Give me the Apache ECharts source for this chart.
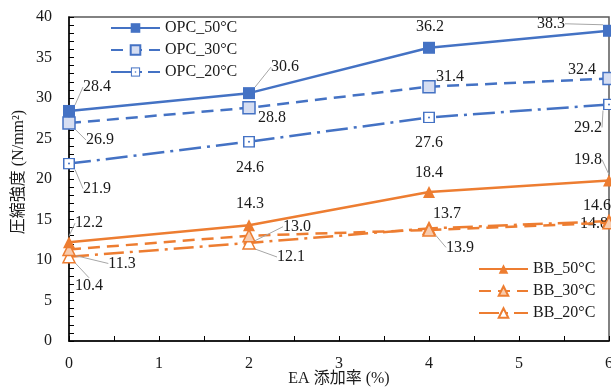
<!DOCTYPE html>
<html>
<head>
<meta charset="utf-8">
<script src="https://cdn.jsdelivr.net/npm/echarts@6/dist/echarts.min.js"></script>
<style>html,body{margin:0;padding:0;background:#fff}#c{width:611px;height:387px}</style>
</head>
<body>
<div id="c"></div>
<script>
// ---- data ----
var xValues = [0, 2, 4, 6];
var seriesNames = ['OPC_50°C', 'OPC_30°C', 'OPC_20°C', 'BB_50°C', 'BB_30°C', 'BB_20°C'];
var opc50 = [28.4, 30.6, 36.2, 38.3];
var opc30 = [26.9, 28.8, 31.4, 32.4];
var opc20 = [21.9, 24.6, 27.6, 29.2];
var bb50 = [12.2, 14.3, 18.4, 19.8];
var bb30 = [11.3, 13.0, 13.7, 14.6];
var bb20 = [10.4, 12.1, 13.9, 14.8];
var xTicks = [0, 1, 2, 3, 4, 5, 6];
var yTicks = [0, 5, 10, 15, 20, 25, 30, 35, 40];

// ---- label placement (layout only) ----
var labelOffsets = [
  [[28,-24],[36,-26],[1,-21],[-58,-7]],
  [[31,17],[23,10],[21,-10],[-27,-9]],
  [[28,25],[1,26],[0,25],[-21,23]],
  [[20,-19],[1,-21],[0,-19],[-21,-21]],
  [[53,14],[48,-9],[18,-16],[-12,-17]],
  [[20,29],[42,14],[31,19],[-15,3]]
];
var leaders = [
  [1,1,0,1],[1,0,0,0],[1,0,0,1],[1,0,0,1],[1,1,0,0],[1,1,1,0]
];

var BLUE = '#4472C4', ORANGE = '#ED7D31';
var serif = "'Liberation Serif', 'Times New Roman', serif";
var cjk = "'Liberation Serif', 'Noto Sans CJK JP', serif";

var opc20Svg = '<svg xmlns="http://www.w3.org/2000/svg" width="12" height="12" viewBox="0 0 12 12">' +
  '<rect x="0.75" y="0.75" width="10.5" height="10.5" fill="#ffffff" stroke="' + BLUE + '" stroke-width="1.5"/>' +
  '<circle cx="6" cy="6" r="1" fill="' + BLUE + '"/></svg>';
var opc20Symbol = 'image://data:image/svg+xml;charset=utf-8,' + encodeURIComponent(opc20Svg);

var styles = [
  {color: BLUE, dash: 'solid', symbol: 'rect', fill: BLUE, size: 12},
  {color: BLUE, dash: [12, 7], symbol: 'rect', fill: '#D6DEF2', size: 12},
  {color: BLUE, dash: [22, 6, 3, 6], symbol: opc20Symbol, fill: '#ffffff', size: 12},
  {color: ORANGE, dash: 'solid', symbol: 'triangle', fill: ORANGE, size: 12},
  {color: ORANGE, dash: [12, 7], symbol: 'triangle', fill: '#F8CBAD', size: 12},
  {color: ORANGE, dash: [20, 6, 3, 6], symbol: 'triangle', fill: '#ffffff', size: 12}
];
var allValues = [opc50, opc30, opc20, bb50, bb30, bb20];

var series = allValues.map(function (vals, si) {
  var st = styles[si];
  return {
    name: seriesNames[si],
    type: 'line',
    data: vals.map(function (v, i) {
      return {
        value: [xValues[i], v],
        labelLine: {show: !!leaders[si][i], lineStyle: {color: '#A6A6A6', width: 1}}
      };
    }),
    symbol: st.symbol,
    symbolSize: st.size,
    z: 10 - si,
    lineStyle: {color: st.color, width: 2.5, type: st.dash},
    itemStyle: {color: st.fill, borderColor: st.color, borderWidth: st.fill === st.color ? 0 : 1.5},
    label: {
      show: true,
      position: 'inside',
      formatter: function (p) { return p.value[1].toFixed(1); },
      fontFamily: serif, fontSize: 16, color: '#1a1a1a'
    },
    labelLayout: function (params) {
      var o = labelOffsets[si][params.dataIndex];
      return {dx: o[0], dy: o[1], hideOverlap: false};
    },
    emphasis: {disabled: true}
  };
});

var chart = echarts.init(document.getElementById('c'), null, {renderer: 'canvas'});
chart.setOption({
  animation: false,
  grid: {left: 69, right: 2, top: 17, bottom: 46, show: true, borderColor: '#595959', borderWidth: 1.5,
         containLabel: false, outerBoundsMode: 'none'},
  legend: [
    {
      data: seriesNames.slice(0, 3), orient: 'vertical', left: 110, top: 20, padding: 0,
      itemWidth: 49, itemHeight: 12, itemGap: 6,
      textStyle: {fontFamily: serif, fontSize: 16, color: '#1a1a1a', lineHeight: 16}
    },
    {
      data: seriesNames.slice(3), orient: 'vertical', left: 478, top: 261, padding: 0,
      itemWidth: 49, itemHeight: 12, itemGap: 6,
      textStyle: {fontFamily: serif, fontSize: 16, color: '#1a1a1a', lineHeight: 16}
    }
  ],
  xAxis: {
    type: 'value', min: xTicks[0], max: xTicks[xTicks.length - 1], interval: 1,
    name: 'EA 添加率 (%)', nameLocation: 'middle', nameGap: 30, nameMoveOverlap: false,
    nameTextStyle: {fontFamily: cjk, fontSize: 16, color: '#1a1a1a'},
    axisLine: {lineStyle: {color: '#000', width: 1.5}},
    axisTick: {inside: true, length: 5, lineStyle: {color: '#000'}},
    minorTick: {show: true, splitNumber: 2, length: 5, lineStyle: {color: '#000'}},
    splitLine: {show: false},
    axisLabel: {margin: 15, fontFamily: serif, fontSize: 16, color: '#1a1a1a'}
  },
  yAxis: {
    type: 'value', min: yTicks[0], max: yTicks[yTicks.length - 1], interval: 5,
    name: '圧縮強度 (N/mm²)', nameLocation: 'middle', nameGap: 42, nameRotate: 90, nameMoveOverlap: false,
    nameTextStyle: {fontFamily: cjk, fontSize: 16, color: '#1a1a1a', padding: [0, 0, 0, 14]},
    axisLine: {show: true, lineStyle: {color: '#000', width: 1.5}},
    axisTick: {show: true, inside: true, length: 5, lineStyle: {color: '#000'}},
    minorTick: {show: true, splitNumber: 5, length: 5, lineStyle: {color: '#000'}},
    splitLine: {show: false},
    axisLabel: {margin: 17, fontFamily: serif, fontSize: 16, color: '#1a1a1a'}
  },
  series: series
});
</script>
</body>
</html>
